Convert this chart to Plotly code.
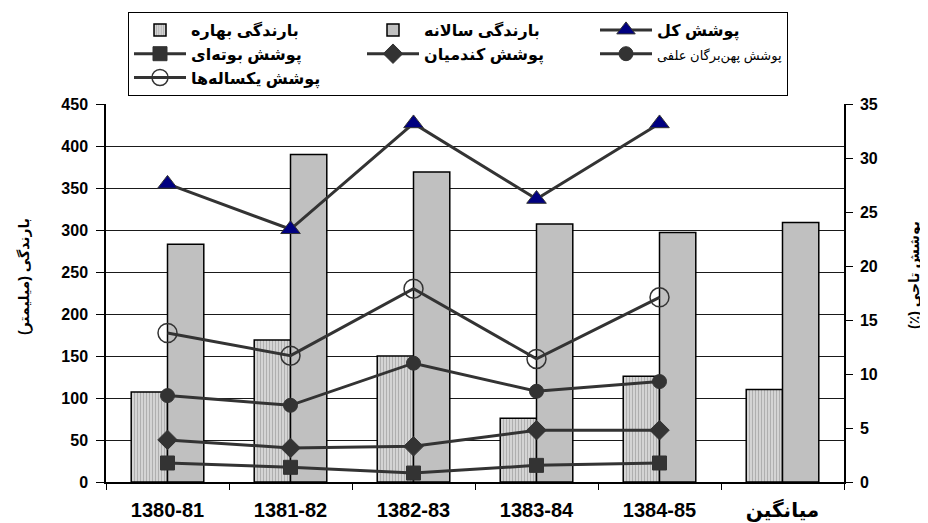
import plotly.graph_objects as go

# ---------------- data ----------------
categories = ["1380-81", "1381-82", "1382-83", "1383-84", "1384-85", "میانگین"]
years = categories[:5]

spring_rain = [107, 169, 150, 76, 126, 110]      # بارندگی بهاره (mm)
annual_rain = [283, 390, 369, 307, 297, 309]     # بارندگی سالانه (mm)

total_cover = [27.6, 23.4, 33.2, 26.2, 33.2]     # پوشش کل (%)
shrub_cover = [1.76, 1.36, 0.83, 1.54, 1.76]     # پوشش بوته‌ای
grass_cover = [3.9, 3.15, 3.3, 4.8, 4.8]         # پوشش گندمیان
forb_cover = [8.0, 7.1, 11.0, 8.4, 9.3]          # پوشش پهن‌برگان علفی
annual_cover = [13.8, 11.7, 17.9, 11.4, 17.1]    # پوشش یکساله‌ها

left_ticks = [0, 50, 100, 150, 200, 250, 300, 350, 400, 450]
left_grid = [50, 100, 150, 200, 250, 300, 350, 400]
right_ticks = [0, 5, 10, 15, 20, 25, 30, 35]

names = {
    "spring": "بارندگی بهاره",
    "annual": "بارندگی سالانه",
    "total": "پوشش کل",
    "shrub": "پوشش بوته\u200cای",
    "grass": "پوشش کندمیان",
    "forb": "پوشش پهن\u200cبرگان علفی",
    "annuals": "پوشش یکساله\u200cها",
}
y_title = "بارندگی (میلیمتر)"
y2_title = "پوشش تاجی (٪)"

RLE, PDF = "\u202B", "\u202C"   # right-to-left embedding for the titles

# ---------------- layout constants ----------------
# the page body adds an 8px offset, so the figure is 8px smaller
OFF = 8
W, H = 928 - OFF, 523 - OFF
ML, MR, MT, MB = 106 - OFF, 84, 104 - OFF, 41
PW, PH = W - ML - MR, H - MT - MB

FONT = "Liberation Sans, Arial, DejaVu Sans, sans-serif"
LINE = "#333333"

fig = go.Figure()

fig.add_trace(go.Bar(
    x=categories, y=spring_rain, name=names["spring"],
    marker=dict(color="#cfcfcf", line=dict(color="black", width=1.5),
                pattern=dict(shape="|", size=3, solidity=0.35,
                             fgcolor="#8a8a8a", bgcolor="#d4d4d4")),
    yaxis="y", xaxis="x",
))
fig.add_trace(go.Bar(
    x=categories, y=annual_rain, name=names["annual"],
    marker=dict(color="#c0c0c0", line=dict(color="black", width=1.5)),
    yaxis="y", xaxis="x",
))

def line_trace(vals, name, symbol, size, fill, lw=1, lwidth=None):
    return go.Scatter(
        x=years, y=vals, name=name, yaxis="y2", xaxis="x",
        mode="lines+markers",
        line=dict(color=LINE, width=3),
        marker=dict(symbol=symbol, size=size, color=fill,
                    line=dict(color=LINE, width=lw)),
        legendwidth=lwidth,
    )

fig.add_trace(line_trace(total_cover, names["total"], "triangle-up", 17, "#000080", 1, 125))
fig.add_trace(line_trace(shrub_cover, names["shrub"], "square", 14, LINE))
fig.add_trace(line_trace(grass_cover, names["grass"], "diamond", 15, LINE))
fig.add_trace(go.Scatter(
    x=years, y=forb_cover,
    name="<span style='font-size:13px;font-weight:normal'>" + names["forb"] + "</span>",
    yaxis="y2", xaxis="x", mode="lines+markers",
    line=dict(color=LINE, width=3),
    marker=dict(symbol="circle", size=14, color=LINE, line=dict(color=LINE, width=1)),
    legendwidth=125,
))
fig.add_trace(line_trace(annual_cover, names["annuals"], "circle-open", 19, LINE, 1.5))

# empty helper trace so the grid-only axis is drawn
fig.add_trace(go.Scatter(x=[], y=[], yaxis="y3", xaxis="x", showlegend=False,
                         hoverinfo="skip"))

fig.update_layout(
    width=W, height=H,
    margin=dict(l=ML, r=MR, t=MT, b=MB, autoexpand=False),
    paper_bgcolor="white", plot_bgcolor="white",
    font=dict(family=FONT, color="black"),
    barmode="group", bargap=0.41, bargroupgap=0,
    showlegend=True,
    legend=dict(
        orientation="h", x=(120 - ML) / PW, y=(PH + MT - 4) / PH,
        xanchor="left", yanchor="top",
        bgcolor="white", bordercolor="black", borderwidth=1,
        font=dict(family=FONT, size=16, color="black", weight="bold"),
        itemwidth=52, entrywidth=166, entrywidthmode="pixels",
        traceorder="normal", valign="middle",
    ),
    xaxis=dict(
        type="category", range=[-0.5, 5.5],
        tickson="boundaries", ticks="outside", ticklen=6, tickwidth=1.2,
        tickcolor="black", showline=True, linecolor="black", linewidth=1.5,
        showgrid=False, zeroline=False,
        tickfont=dict(family=FONT, size=20, weight="bold", color="black"),
        ticklabelstandoff=9,
    ),
    yaxis=dict(
        range=[0, 450], tickmode="array", tickvals=left_ticks,
        ticks="outside", ticklen=8, tickwidth=1.2, tickcolor="black",
        showline=True, linecolor="black", linewidth=1.5,
        showgrid=False, zeroline=False,
        tickfont=dict(family=FONT, size=16, weight="bold", color="black"),
        ticklabelstandoff=5,
    ),
    yaxis2=dict(
        overlaying="y", side="right", anchor="x",
        range=[0, 35], tickmode="array", tickvals=right_ticks,
        ticks="outside", ticklen=7, tickwidth=1.2, tickcolor="black",
        showline=True, linecolor="black", linewidth=1.5,
        showgrid=False, zeroline=False,
        tickfont=dict(family=FONT, size=16, weight="bold", color="black"),
        ticklabelstandoff=4,
    ),
    yaxis3=dict(
        overlaying="y", anchor="x", range=[0, 450],
        tickmode="array", tickvals=left_grid,
        showgrid=True, gridcolor="#1a1a1a", gridwidth=1,
        showticklabels=False, ticks="", showline=False, zeroline=False,
    ),
    annotations=[
        dict(text="<b>" + RLE + y_title + PDF + "</b>", textangle=-90,
             xref="paper", yref="paper", xanchor="center", yanchor="middle",
             x=(24 - OFF - ML) / PW, y=(MT + PH - (277 - OFF)) / PH,
             showarrow=False, font=dict(family=FONT, size=14, color="black")),
        dict(text="<b>" + RLE + y2_title + PDF + "</b>", textangle=-90,
             xref="paper", yref="paper", xanchor="center", yanchor="middle",
             x=(914 - OFF - ML) / PW, y=(MT + PH - (275 - OFF)) / PH,
             showarrow=False, font=dict(family=FONT, size=14, color="black")),
    ],
)

fig.write_html("out.html")
